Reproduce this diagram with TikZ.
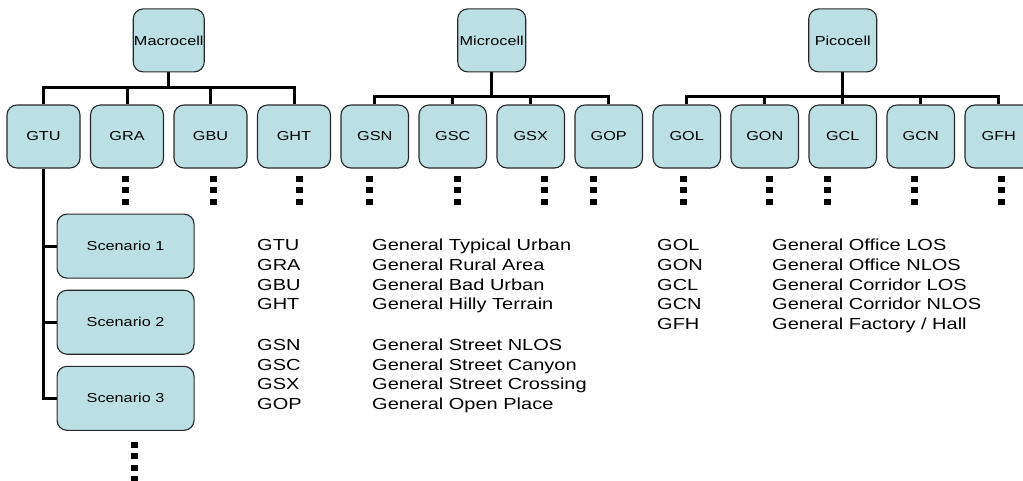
\documentclass[tikz,border=0pt]{standalone}
\usepackage{fontspec}
\setmainfont{Liberation Sans}[FakeStretch=1.25]
\usetikzlibrary{positioning,calc}
\definecolor{cellfill}{RGB}{187,224,227}
\definecolor{cellline}{RGB}{40,40,40}

\begin{document}
\begin{tikzpicture}[x=1pt, y=-1pt, font=\fontsize{13}{15}\selectfont, node distance=9.4pt,
  cell/.style={draw=cellline, fill=cellfill, line width=1.1pt, rounded corners=10pt, minimum height=63pt, inner sep=0pt, align=center},
  wide/.style={cell, minimum width=73pt},
  narrow/.style={cell, minimum width=67.5pt},
  tree/.style={line width=3pt, line join=miter},
  dotcol/.style={line width=7pt, dash pattern=on 6pt off 5.5pt},
  legend/.style={anchor=north west, inner sep=0pt, font=\fontsize{16}{19.6}\selectfont}]
\path[use as bounding box, clip] (0,0) rectangle (1023,480);
% second row
\node[wide] (gtu) at (43.5,136.5) {GTU};
\node[wide, right=of gtu] (gra) {GRA};
\node[wide, right=of gra] (gbu) {GBU};
\node[wide, right=of gbu] (ght) {GHT};
\node[narrow, right=of ght] (gsn) {GSN};
\node[narrow, right=of gsn] (gsc) {GSC};
\node[narrow, right=of gsc] (gsx) {GSX};
\node[narrow, right=of gsx] (gop) {GOP};
\node[narrow, right=of gop] (gol) {GOL};
\node[narrow, right=of gol] (gon) {GON};
\node[narrow, right=of gon] (gcl) {GCL};
\node[narrow, right=of gcl] (gcn) {GCN};
\node[narrow, right=of gcn] (gfh) {GFH};
% top row
\coordinate (macmid) at ($(gra.north)!0.5!(gbu.north)$);
\coordinate (micmid) at ($(gsc.north)!0.5!(gsx.north)$);
\node[cell, minimum width=71pt, above=32pt of macmid] (macro) {Macrocell};
\node[cell, minimum width=68pt, above=32pt of micmid] (micro) {Microcell};
\node[cell, minimum width=68pt, above=32pt of gcl] (pico) {Picocell};
\coordinate (macbus) at ([yshift=-15pt]macro.south);
\coordinate (micbus) at ([yshift=-24pt]micro.south);
\coordinate (picbus) at ([yshift=-24pt]pico.south);
\foreach \c in {gtu,gra,gbu,ght} \draw[tree] (macro.south) -- (macbus) -| (\c.north);
\foreach \c in {gsn,gsc,gsx,gop} \draw[tree] (micro.south) -- (micbus) -| (\c.north);
\foreach \c in {gol,gon,gcl,gcn,gfh} \draw[tree] (pico.south) -- (picbus) -| (\c.north);
% scenarios under GTU
\node[cell, minimum width=137pt, minimum height=64pt, below right=45pt and 13pt of gtu.south] (sc1) {Scenario 1};
\node[cell, minimum width=137pt, minimum height=64pt, below=11pt of sc1] (sc2) {Scenario 2};
\node[cell, minimum width=137pt, minimum height=64pt, below=11pt of sc2] (sc3) {Scenario 3};
\foreach \s in {sc1,sc2,sc3} \draw[tree] (gtu.south) |- (\s.west);
% dots
\foreach \n/\dx in {gra/-2,gbu/2.5,ght/5.5,gsn/-5.5,gsc/5,gsx/13.5,gop/-15,gol/-3,gon/4.5,gcl/-15.5,gcn/-6.5,gfh/3}
  \draw[dotcol] ([xshift=\dx pt, yshift=-7pt]\n.south) -- ++(0,29);
\draw[dotcol] ([xshift=8.5pt, yshift=-11pt]sc3.south) -- ++(0,40.5);
% legend
\node[legend] (legleft) at (257,237) {\begin{tabular}{@{}p{115pt}@{}l@{}}
GTU & General Typical Urban\\
GRA & General Rural Area\\
GBU & General Bad Urban\\
GHT & General Hilly Terrain\\[21.4pt]
GSN & General Street NLOS\\
GSC & General Street Canyon\\
GSX & General Street Crossing\\
GOP & General Open Place
\end{tabular}};
\node[legend] (legright) at (657,237) {\begin{tabular}{@{}p{115pt}@{}l@{}}
GOL & General Office LOS\\
GON & General Office NLOS\\
GCL & General Corridor LOS\\
GCN & General Corridor NLOS\\
GFH & General Factory / Hall
\end{tabular}};
\end{tikzpicture}
\end{document}
